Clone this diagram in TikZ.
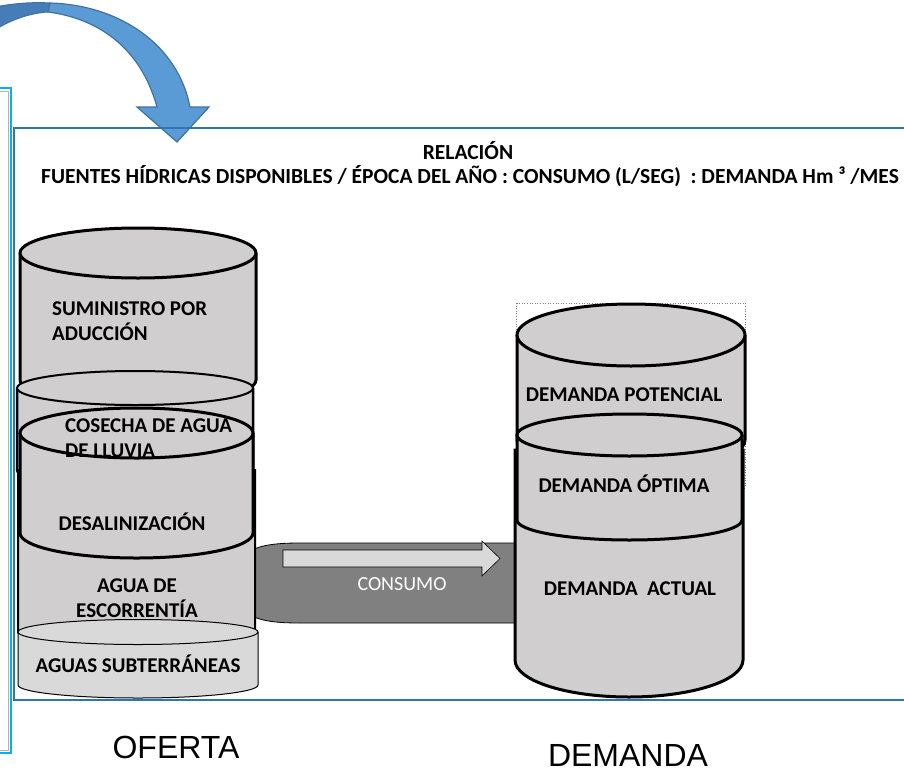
\documentclass[tikz,border=0pt]{standalone}
\usepackage{fontspec}
\setmainfont{Carlito}
\newfontfamily\arialfont{Liberation Sans}
\usetikzlibrary{positioning}

\definecolor{cylgray}{RGB}{208,206,206}
\definecolor{subgray}{RGB}{217,217,217}
\definecolor{bandgray}{RGB}{128,128,128}
\definecolor{arrowgray}{RGB}{217,217,217}
\definecolor{frameblue}{RGB}{46,117,182}
\definecolor{framecyan}{RGB}{0,176,240}
\definecolor{bigblue}{RGB}{91,155,213}
\definecolor{bigblueback}{RGB}{70,125,185}
\definecolor{bigblueline}{RGB}{65,113,156}

\begin{document}
\begin{tikzpicture}[x=1pt, y=-1pt,
	cyl/.style={fill=cylgray, draw=black, line width=3pt},
	cylthin/.style={fill=subgray, draw=black, line width=1pt},
	lbl/.style={font=\bfseries\fontsize{21}{25}\selectfont, inner sep=0pt},
	ttl/.style={font=\bfseries\fontsize{21.5}{24}\selectfont, inner sep=0pt},
	big/.style={font=\arialfont\fontsize{32}{36}\selectfont, inner sep=0pt}]
	\useasboundingbox (0,0) rectangle (904,771);

	\fill[bigblueback, draw=bigblueline, line width=1pt]
		(-5,7) .. controls (15,3) and (35,2) .. (50,3) -- (48,12)
		.. controls (30,13) and (10,20) .. (-5,30) -- cycle;
	\fill[bigblue, draw=bigblueline, line width=1.2pt]
		(50,3) .. controls (120,5) and (178,45) .. (190,107)
		-- (209,107) -- (177,142) -- (137,107) -- (157,107)
		.. controls (140,45) and (95,18) .. (48,12) -- cycle;

	\draw[gray!60, line width=0.8pt] (-10,91) rectangle (8,750);
	\draw[framecyan, line width=1.5pt] (-10,88) rectangle (11,753);
	\draw[frameblue, line width=2pt] (14,128) rectangle (915,700);
	\draw[gray, dotted, line width=0.6pt] (516,303) rectangle (745,488);

	\node[ttl] (rel) at (468,159) [anchor=base] {RELACIÓN};
	\node[ttl] (fue) at (470,183) [anchor=base] {FUENTES HÍDRICAS DISPONIBLES / ÉPOCA DEL AÑO : CONSUMO (L/SEG) \ : DEMANDA Hm ³ /MES};

	\fill[bandgray, draw=black, line width=0.8pt]
		(240,560) .. controls (250,546) and (270,543) .. (300,543) -- (530,543)
		-- (530,623) -- (300,623) .. controls (270,623) and (250,620) .. (240,606) -- cycle;
	\filldraw[fill=arrowgray, draw=black, line width=0.6pt]
		(283,550) -- (482,550) -- (482,541) -- (500,558.5) -- (482,576) -- (482,567) -- (283,567) -- cycle;
	\node[font=\fontsize{20}{24}\selectfont, text=white, inner sep=0pt] (con) at (402,590) [anchor=base] {CONSUMO};

	\filldraw[cyl] (20,253) -- (20,380) arc[start angle=180, end angle=0, x radius=118, y radius=25] -- (256,253);
	\draw[cyl] (138,253) ellipse [x radius=118, y radius=25];

	\filldraw[cyl, line width=2.5pt] (17,388) -- (17,470) arc[start angle=180, end angle=0, x radius=118, y radius=17] -- (253,388);
	\draw[cyl, line width=2pt] (135,388) ellipse [x radius=118, y radius=17];

	\filldraw[cyl, line width=2pt] (18,470) -- (18,632) arc[start angle=180, end angle=0, x radius=118.5, y radius=12.5] -- (255,470) -- cycle;

	\filldraw[cyl] (20,433) -- (20,533) arc[start angle=180, end angle=0, x radius=116.5, y radius=25] -- (253,433);
	\draw[cyl] (136.5,433) ellipse [x radius=116.5, y radius=25];

	\filldraw[cylthin] (18,632) -- (18,685) arc[start angle=180, end angle=0, x radius=120, y radius=13] -- (258,632);
	\draw[cylthin] (138,632) ellipse [x radius=120, y radius=12.5];

	\filldraw[cyl] (517,335) -- (517,440) arc[start angle=180, end angle=0, x radius=114, y radius=31] -- (745,335);
	\draw[cyl] (631,335) ellipse [x radius=114, y radius=31];

	\filldraw[cyl] (515,450) -- (515,660) arc[start angle=180, end angle=0, x radius=114, y radius=37] -- (743,450) -- cycle;

	\filldraw[cyl] (517,435) -- (517,520) arc[start angle=180, end angle=0, x radius=112.5, y radius=20] -- (742,435);
	\draw[cyl] (629.5,435) ellipse [x radius=112.5, y radius=21];

	\node[lbl, align=left] (sum) at (52,340) [anchor=base west] {SUMINISTRO POR\\ADUCCIÓN};
	\node[lbl, align=left] (cos) at (65,457) [anchor=base west] {COSECHA DE AGUA\\DE LLUVIA};
	\node[lbl] (des) at (132,530) [anchor=base] {DESALINIZACIÓN};
	\node[lbl, align=center] (esc) at (137,617) [anchor=base] {AGUA DE\\ESCORRENTÍA};
	\node[lbl] (sub) at (138,672) [anchor=base] {AGUAS SUBTERRÁNEAS};

	\node[lbl] (pot) at (624,401) [anchor=base] {DEMANDA POTENCIAL};
	\node[lbl] (opt) at (624,492) [anchor=base] {DEMANDA ÓPTIMA};
	\node[lbl] (act) at (630,595) [anchor=base] {DEMANDA \ ACTUAL};

	\node[big] (ofe) at (176,758) [anchor=base] {OFERTA};
	\node[big] (dem) at (628,766) [anchor=base] {DEMANDA};
\end{tikzpicture}
\end{document}
